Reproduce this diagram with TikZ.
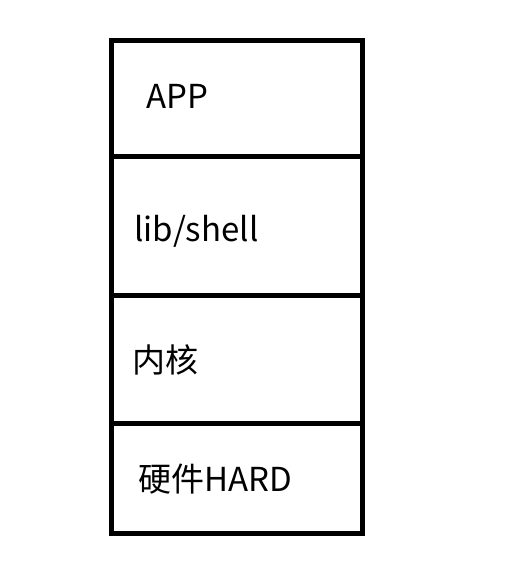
\documentclass[tikz,border=0pt]{standalone}
\usepackage{fontspec}
\setmainfont{Noto Sans CJK SC}
\begin{document}
\begin{tikzpicture}[x=1pt, y=-1pt, layer/.style={anchor=west, inner sep=0pt, font=\fontsize{33}{38}\selectfont}]
            \useasboundingbox (0,0) rectangle (525,577);
            \draw [line width=5pt] (111.5,40.5) rectangle (362.5,533.5);
            \draw [line width=5pt] (111.5,156.5) -- (365,156.5);
            \draw [line width=5pt] (111.5,295) -- (365,295);
            \draw [line width=5pt] (111.5,423) -- (362.5,423);
            \node [layer] (app) at (146,96) {APP};
            \node [layer] (lib) at (134,231) {lib/shell};
            \node [layer] (kernel) at (132,360) {内核};
            \node [layer] (hard) at (138,479) {硬件HARD};
        \end{tikzpicture}
\end{document}
